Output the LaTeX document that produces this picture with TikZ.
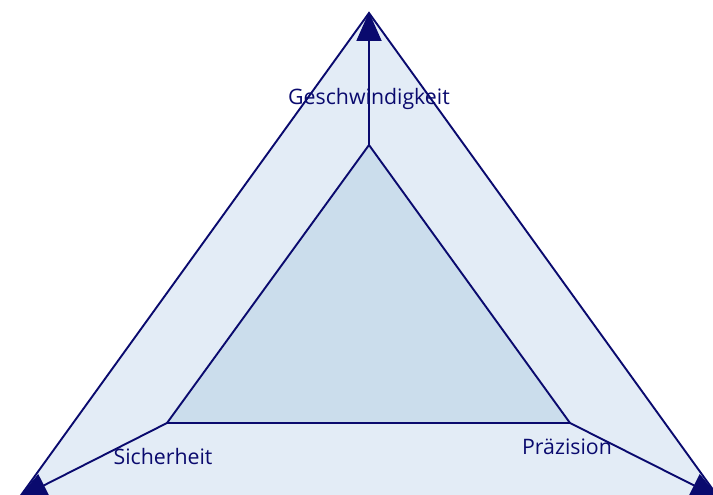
\documentclass[tikz,border=0pt]{standalone}
\usepackage{fontspec}
\setmainfont{Open Sans}
\usetikzlibrary{arrows.meta}
\definecolor{navy}{RGB}{10,10,110}
\definecolor{outerfill}{RGB}{227,236,246}
\definecolor{innerfill}{RGB}{203,221,236}
\tikzset{
  edge/.style={draw=navy, line width=1.9pt, line join=miter},
  axis/.style={draw=navy, line width=1.9pt, -{Triangle[length=29pt,width=25pt]}, shorten >=-1pt},
  lbl/.style={text=navy, font=\fontsize{21.3}{24}\selectfont, inner sep=0pt}
}
\begin{document}
\begin{tikzpicture}[x=1pt,y=-1pt]
\useasboundingbox (0,0) rectangle (713,495);
\clip (0,0) rectangle (713,495);
\coordinate (A) at (369,13);
\coordinate (B) at (19,498);
\coordinate (C) at (719,498);
\coordinate (a) at (369,145);
\coordinate (b) at (167,423);
\coordinate (c) at (570,423);
\path[edge, fill=outerfill] (A) -- (B) -- (C) -- cycle;
\path[edge, fill=innerfill] (a) -- (b) -- (c) -- cycle;
\draw[axis] (a) -- (A);
\draw[axis] (b) -- (B);
\draw[axis] (c) -- (C);
\node[lbl] (g) at (369,99) {Geschwindigkeit};
\node[lbl] (s) at (163,457) {Sicherheit};
\node[lbl] (p) at (567,447) {Präzision};
\end{tikzpicture}
\end{document}
